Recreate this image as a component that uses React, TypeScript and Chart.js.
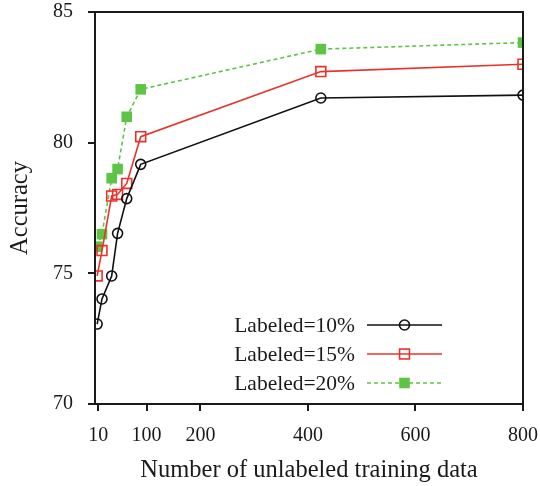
import React, { useEffect, useRef } from "react";
import { Chart, registerables } from "chart.js";

Chart.register(...registerables);

const xValues = [8, 17, 35, 46, 63, 89, 424, 800];
const acc10 = [73.06, 74.02, 74.9, 76.53, 77.86, 79.17, 81.71, 81.82];
const acc15 = [74.9, 75.87, 77.96, 78.02, 78.44, 80.23, 82.72, 83.0];
const acc20 = [76.02, 76.5, 78.64, 78.99, 80.99, 82.04, 83.58, 83.83];
const seriesLabels = ["Labeled=10%", "Labeled=15%", "Labeled=20%"];
const xTicks = [10, 100, 200, 400, 600, 800];
const yTicks = [70, 75, 80, 85];

const FONT = "'Liberation Serif', 'DejaVu Serif', serif";
const BLACK = "#111111";
const RED = "#e8332a";
const GREEN = "#5ec445";

const framePlugin = {
  id: "frame",
  afterDraw(chart: any) {
    const { ctx, chartArea } = chart;
    const { left, right, top, bottom } = chartArea;
    ctx.save();
    ctx.strokeStyle = "#1a1a1a";
    ctx.lineWidth = 2;
    ctx.strokeRect(left, top, right - left, bottom - top);
    ctx.restore();
  },
};

const legendPlugin = {
  id: "customLegend",
  afterDraw(chart: any) {
    const { ctx } = chart;
    const textRight = 355;
    const lineStart = 367;
    const lineEnd = 442;
    const rows = [325, 354, 383];
    ctx.save();
    chart.data.datasets.forEach((ds: any, i: number) => {
      const y = rows[i];
      ctx.font = `21.5px ${FONT}`;
      ctx.fillStyle = "#1a1a1a";
      ctx.textAlign = "right";
      ctx.textBaseline = "middle";
      ctx.fillText(ds.label, textRight, y + 1);
      ctx.strokeStyle = ds.borderColor;
      ctx.lineWidth = ds.borderWidth;
      ctx.setLineDash(ds.borderDash || []);
      ctx.beginPath();
      ctx.moveTo(lineStart, y);
      ctx.lineTo(lineEnd, y);
      ctx.stroke();
      ctx.setLineDash([]);
      const mx = (lineStart + lineEnd) / 2;
      if (ds.pointStyle === "circle") {
        ctx.beginPath();
        ctx.arc(mx, y, ds.pointRadius, 0, Math.PI * 2);
        ctx.fillStyle = ds.pointBackgroundColor;
        ctx.fill();
        ctx.lineWidth = ds.pointBorderWidth;
        ctx.strokeStyle = ds.pointBorderColor;
        ctx.stroke();
      } else {
        const s = Math.SQRT1_2 * ds.pointRadius;
        ctx.fillStyle = ds.pointBackgroundColor;
        ctx.fillRect(mx - s, y - s, 2 * s, 2 * s);
        if (ds.pointBorderWidth > 0) {
          ctx.lineWidth = ds.pointBorderWidth;
          ctx.strokeStyle = ds.pointBorderColor;
          ctx.strokeRect(mx - s, y - s, 2 * s, 2 * s);
        }
      }
    });
    ctx.restore();
  },
};

export default function App() {
  const ref = useRef<HTMLCanvasElement>(null);

  useEffect(() => {
    document.body.style.margin = "0";
    const mk = (arr: number[]) => xValues.map((x, i) => ({ x, y: arr[i] }));
    const chart = new Chart(ref.current!, {
      type: "line",
      data: {
        datasets: [
          {
            label: seriesLabels[0],
            data: mk(acc10),
            borderColor: BLACK,
            borderWidth: 1.6,
            pointStyle: "circle",
            pointRadius: 5,
            pointBorderWidth: 1.6,
            pointBorderColor: BLACK,
            pointBackgroundColor: "rgba(255,255,255,0)",
            tension: 0,
          },
          {
            label: seriesLabels[1],
            data: mk(acc15),
            borderColor: RED,
            borderWidth: 1.6,
            pointStyle: "rect",
            pointRadius: 7,
            pointBorderWidth: 1.6,
            pointBorderColor: RED,
            pointBackgroundColor: "rgba(255,255,255,0)",
            tension: 0,
          },
          {
            label: seriesLabels[2],
            data: mk(acc20),
            borderColor: GREEN,
            borderWidth: 1.6,
            borderDash: [4, 3],
            pointStyle: "rect",
            pointRadius: 7.5,
            pointBorderWidth: 0,
            pointBorderColor: GREEN,
            pointBackgroundColor: GREEN,
            tension: 0,
          },
        ] as any,
      },
      options: {
        animation: false,
        responsive: false,
        maintainAspectRatio: false,
        layout: { padding: { top: 12, right: 17, left: 0, bottom: 0 } },
        plugins: { legend: { display: false }, tooltip: { enabled: false } },
        scales: {
          x: {
            type: "linear",
            min: 4,
            max: 800,
            afterBuildTicks: (s: any) => {
              s.ticks = xTicks.map((v) => ({ value: v }));
            },
            afterFit: (s: any) => {
              s.height = 82;
              s.paddingLeft = 0;
              s.paddingRight = 0;
            },
            grid: {
              drawOnChartArea: false,
              drawTicks: true,
              tickLength: 7,
              color: "#1a1a1a",
              lineWidth: 2,
            },
            border: { display: true, color: "#1a1a1a", width: 2 },
            ticks: {
              color: "#1a1a1a",
              font: { family: FONT, size: 20 },
              padding: 13,
              maxRotation: 0,
              autoSkip: false,
            },
            title: {
              display: true,
              text: "Number of unlabeled training data",
              color: "#1a1a1a",
              font: { family: FONT, size: 24.5 },
              padding: { top: 0, bottom: 1 },
            },
          },
          y: {
            type: "linear",
            min: 70,
            max: 85,
            afterBuildTicks: (s: any) => {
              s.ticks = yTicks.map((v) => ({ value: v }));
            },
            afterFit: (s: any) => {
              s.width = 95;
              s.paddingTop = 0;
              s.paddingBottom = 0;
            },
            grid: {
              drawOnChartArea: false,
              drawTicks: true,
              tickLength: 7,
              color: "#1a1a1a",
              lineWidth: 2,
            },
            border: { display: true, color: "#1a1a1a", width: 2 },
            ticks: {
              color: "#1a1a1a",
              font: { family: FONT, size: 20 },
              padding: 15,
            },
            title: {
              display: true,
              text: "Accuracy",
              color: "#1a1a1a",
              font: { family: FONT, size: 24.5 },
              padding: { top: 6, bottom: 0 },
            },
          },
        },
      } as any,
      plugins: [framePlugin, legendPlugin],
    });
    return () => chart.destroy();
  }, []);

  return (
    <div style={{ width: 540, height: 486 }}>
      <canvas ref={ref} width={540} height={486} style={{ display: "block" }} />
    </div>
  );
}
